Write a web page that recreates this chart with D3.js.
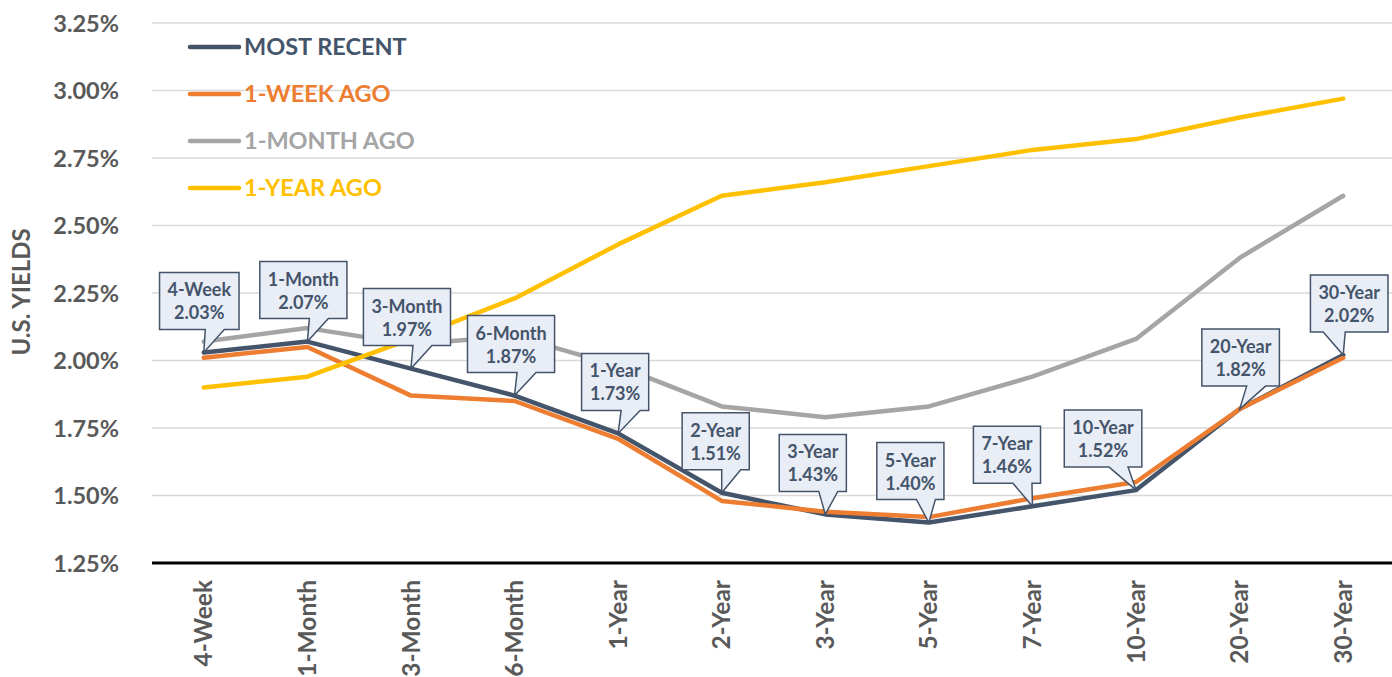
<!DOCTYPE html>
<html>
<head>
<meta charset="utf-8">
<script src="https://cdn.jsdelivr.net/npm/d3@7"></script>
<style>
  html, body { margin: 0; padding: 0; background: #fff; }
  svg { display: block; font-family: Lato, "Open Sans", sans-serif; font-weight: 700; }
</style>
</head>
<body>
<svg id="chart" width="1392" height="677"></svg>
<script>
// ---- data ----
const categories = ["4-Week","1-Month","3-Month","6-Month","1-Year","2-Year","3-Year","5-Year","7-Year","10-Year","20-Year","30-Year"];
const mostRecent = [2.03, 2.07, 1.97, 1.87, 1.73, 1.51, 1.43, 1.40, 1.46, 1.52, 1.82, 2.02];
const weekAgo    = [2.01, 2.05, 1.87, 1.85, 1.71, 1.48, 1.44, 1.42, 1.49, 1.55, 1.82, 2.01];
const monthAgo   = [2.07, 2.12, 2.06, 2.09, 1.98, 1.83, 1.79, 1.83, 1.94, 2.08, 2.38, 2.61];
const yearAgo    = [1.90, 1.94, 2.08, 2.23, 2.43, 2.61, 2.66, 2.72, 2.78, 2.82, 2.90, 2.97];
const seriesNames = ["MOST RECENT", "1-WEEK AGO", "1-MONTH AGO", "1-YEAR AGO"];
const yTickValues = [1.25, 1.50, 1.75, 2.00, 2.25, 2.50, 2.75, 3.00, 3.25];
const yTitle = "U.S. YIELDS";

// ---- layout / style ----
const colors = ["#44546A", "#ED7D31", "#A5A5A5", "#FFC000"];
const calloutDx = [-4.5, -4, -4, -3.5, -3, -6, -12.5, -18.5, -25.5, -33, 1, 6];

const svg = d3.select("#chart");
const mLeft = 152, mRight = 1395, mTop = 23, mBottom = 563;

const x = d3.scaleBand().domain(categories).range([mLeft, mRight]);
const y = d3.scaleLinear().domain([1.25, 3.25]).range([mBottom, mTop]);
const cx = c => x(c) + x.bandwidth() / 2;

// gridlines
svg.append("g").selectAll("line").data(yTickValues.filter(v => v > 1.25)).join("line")
  .attr("x1", mLeft).attr("x2", 1392)
  .attr("y1", d => y(d)).attr("y2", d => y(d))
  .attr("stroke", "#D9D9D9").attr("stroke-width", 1.5);

// y axis labels
const yAxis = d3.axisLeft(y).tickValues(yTickValues).tickFormat(d => d.toFixed(2) + "%").tickSize(0).tickPadding(0);
const yg = svg.append("g").attr("transform", `translate(119,0)`).call(yAxis);
yg.select(".domain").remove();
yg.selectAll("text").attr("fill", "#595959").style("font-size", "23.5px").style("font-family", "Lato, sans-serif").style("font-weight", 700).attr("dy", "0.35em");

// y title
svg.append("text").attr("transform", `translate(22,292) rotate(-90)`)
  .attr("text-anchor", "middle").attr("dy", "0.35em").attr("fill", "#595959").style("font-size", "24px").text(yTitle);

// x axis
const xAxis = d3.axisBottom(x).tickSize(0).tickPadding(0);
const xg = svg.append("g").attr("transform", `translate(0,${mBottom})`).call(xAxis);
xg.select(".domain").remove();
xg.selectAll("text")
  .attr("transform", "rotate(-90)")
  .attr("x", -17).attr("y", 0).attr("dy", "0.35em")
  .attr("text-anchor", "end")
  .attr("fill", "#595959").style("font-size", "24.5px").style("font-family", "Lato, sans-serif").style("font-weight", 700);

svg.append("line").attr("x1", mLeft).attr("x2", 1392).attr("y1", mBottom).attr("y2", mBottom)
  .attr("stroke", "#000").attr("stroke-width", 3);

// lines
const allSeries = [mostRecent, weekAgo, monthAgo, yearAgo];
const line = d3.line().x((d, i) => cx(categories[i])).y(d => y(d));
svg.append("g").selectAll("path").data(allSeries).join("path")
  .attr("d", d => line(d))
  .attr("fill", "none")
  .attr("stroke", (d, i) => colors[i])
  .attr("stroke-width", 4.5)
  .attr("stroke-linejoin", "round").attr("stroke-linecap", "round");

// legend
const lg = svg.append("g");
seriesNames.forEach((name, i) => {
  const ly = 47 + i * 47;
  lg.append("line").attr("x1", 190).attr("x2", 239).attr("y1", ly).attr("y2", ly)
    .attr("stroke", colors[i]).attr("stroke-width", 4.5).attr("stroke-linecap", "round");
  lg.append("text").attr("x", 244).attr("y", ly).attr("dy", "0.36em")
    .attr("fill", colors[i]).style("font-size", "23.5px").text(name);
});

// callouts
const cg = svg.append("g");
categories.forEach((c, i) => {
  const px = cx(c), py = y(mostRecent[i]);
  const g = cg.append("g");
  const t1 = g.append("text").attr("text-anchor", "middle").style("font-size", "18px").attr("fill", "#44546A").text(c);
  const t2 = g.append("text").attr("text-anchor", "middle").style("font-size", "18px").attr("fill", "#44546A").text(mostRecent[i].toFixed(2) + "%");
  const w = Math.max(t1.node().getComputedTextLength(), t2.node().getComputedTextLength()) + 16;
  const h = 57;
  const bcx = px + calloutDx[i];
  const bBottom = py - 23, bTop = bBottom - h;
  const bl = bcx - w / 2, br = bcx + w / 2;
  let a, b;
  if (px >= bcx - 2) { a = bcx + 6; b = bcx + 25; } else { a = bcx - 26; b = bcx - 4; }
  const path = d3.path();
  path.moveTo(bl, bTop); path.lineTo(br, bTop); path.lineTo(br, bBottom);
  path.lineTo(b, bBottom); path.lineTo(px, py); path.lineTo(a, bBottom);
  path.lineTo(bl, bBottom); path.closePath();
  g.insert("path", "text").attr("d", path.toString())
    .attr("fill", "#E9EDF6").attr("stroke", "#44546A").attr("stroke-width", 1.5).attr("stroke-linejoin", "miter");
  t1.attr("x", bcx).attr("y", bTop + 24);
  t2.attr("x", bcx).attr("y", bTop + 47);
});
</script>
</body>
</html>
